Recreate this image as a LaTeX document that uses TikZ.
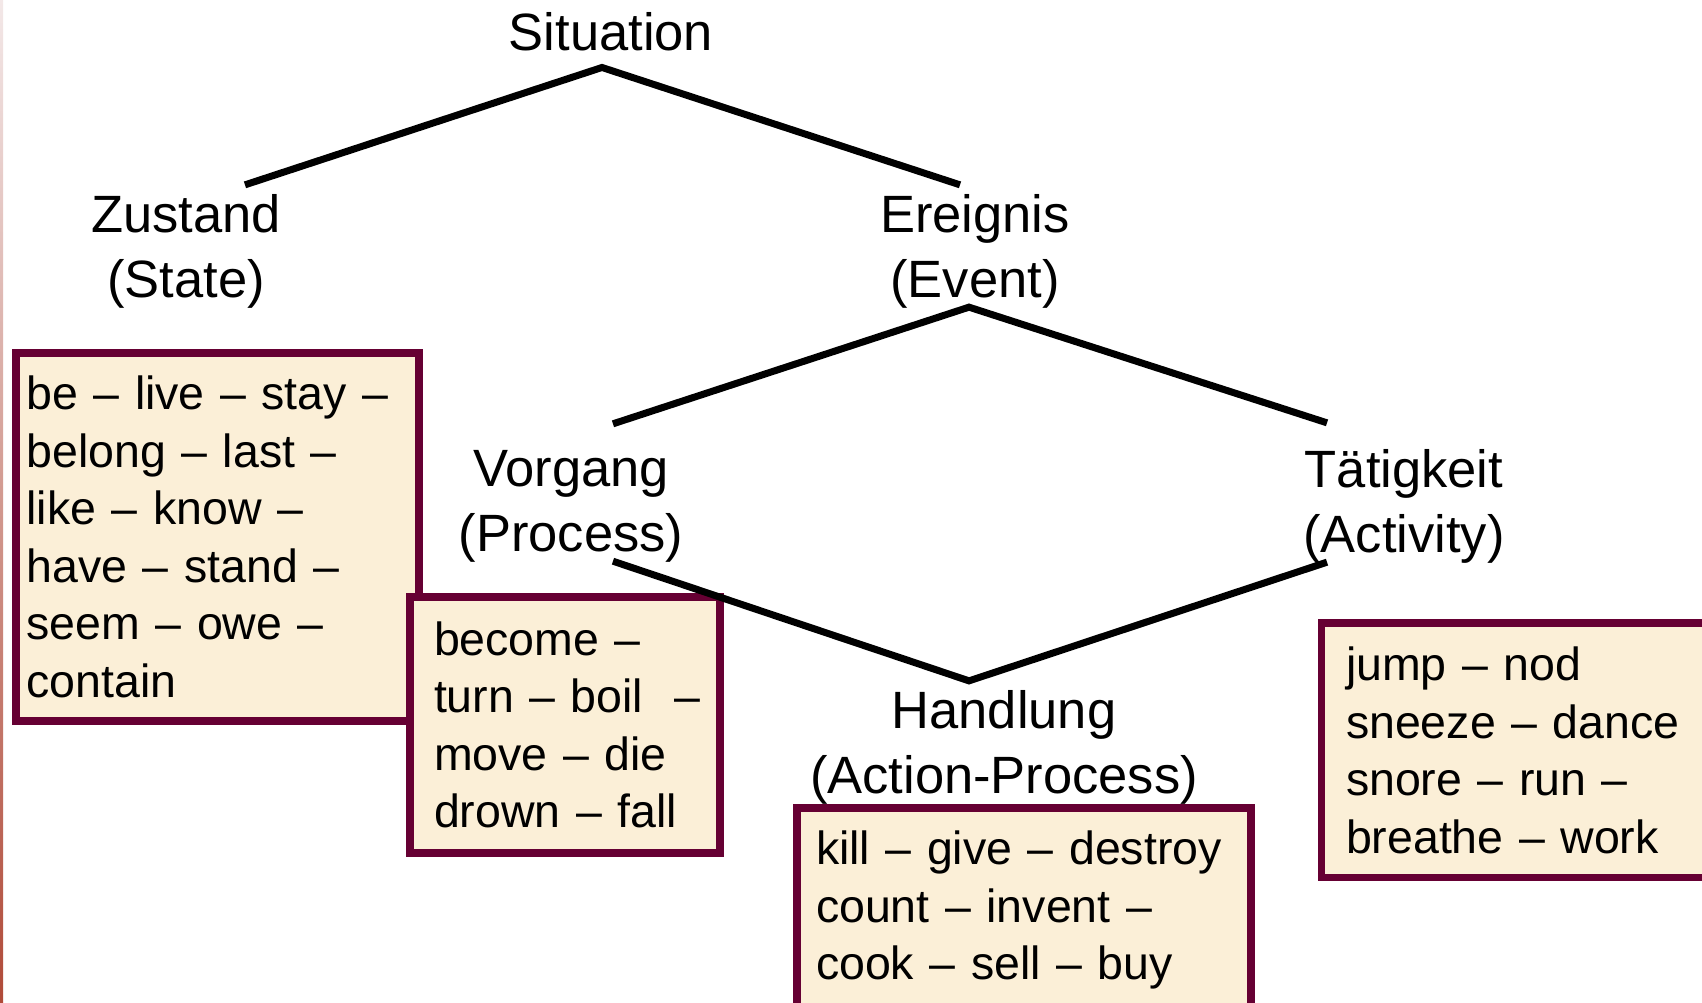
\documentclass[tikz,border=0pt]{standalone}
\usepackage{fontspec}
\setmainfont{Liberation Sans}
\usepackage{xcolor}
\usetikzlibrary{calc}

\definecolor{boxline}{HTML}{660033}
\definecolor{boxpaper}{HTML}{FBEFD7}
\definecolor{edgetop}{HTML}{F3E8E8}
\definecolor{edgebottom}{HTML}{B04A38}

\tikzset{
  catlabel/.style={align=center, inner sep=0pt, font=\fontsize{52.5}{65}\selectfont},
  wordbox/.style={draw=boxline, fill=boxpaper, line width=7.5pt, outer sep=0pt,
    anchor=north west, align=left, inner ysep=0pt, font=\fontsize{46.5}{57.5}\selectfont,
    execute at begin node={\exhyphenpenalty=10000 \hyphenpenalty=10000 }},
  branch/.style={line width=7pt}
}

\begin{document}
\begin{tikzpicture}[x=1pt, y=-1pt]
      \useasboundingbox (0,0) rectangle (1702,1002);
      \clip (0,0) rectangle (1702,1002);
      \shade[top color=edgetop, bottom color=edgebottom] (0,0) rectangle (3,1002);

      % word boxes
      \node[wordbox, minimum width=403, minimum height=368, text width=382, inner xsep=10.5] (statebox) at (16,353)
        {be~--~live~--~stay~--\\ belong~--~last~--\\ like~--~know~--\\ have~--~stand~--\\ seem~--~owe~--\\ contain};
      \node[wordbox, minimum width=310, minimum height=256, text width=262, inner xsep=24] (procbox) at (410,597)
        {become~--\\ turn~--~boil~~--\\ move~--~die\\ drown~--~fall};
      \node[wordbox, minimum width=454, minimum height=204, text width=416, inner xsep=19] (actprocbox) at (797,808)
        {kill~--~give~--~destroy\\ count~--~invent~--\\ cook~--~sell~--~buy};
      \node[wordbox, minimum width=420, minimum height=254.5, text width=371, inner xsep=24.5] (activbox) at (1321.5,623)
        {jump~--~nod\\ sneeze~--~dance\\ snore~--~run~--\\ breathe~--~work};

      % categories
      \node[catlabel] (sit) at (611,32) {Situation};
      \node[catlabel] (zus) at (186,251) {Zustand\\(State)};
      \node[catlabel] (ereig) at (975,251) {Ereignis\\(Event)};
      \node[catlabel] (vorg) at (571,506) {Vorgang\\(Process)};
      \node[catlabel] (taet) at (1404,506) {Tätigkeit\\(Activity)};
      \node[catlabel] (handl) at (1004,747) {Handlung\\(Action-Process)};

      \draw[branch] ($(zus.north)+(59,-9)$) -- ($(sit.south)+(-9,16)$) -- ($(ereig.north)+(-15,-9)$);
      \draw[branch] ($(vorg.north)+(42,-26)$) -- ($(ereig.south)+(-6,-1)$) -- ($(taet.north)+(-77,-26)$);
      \draw[branch] ($(vorg.south)+(42,-1)$) -- ($(handl.north)+(-35,-9)$) -- ($(taet.south)+(-77,-1)$);
\end{tikzpicture}
\end{document}
